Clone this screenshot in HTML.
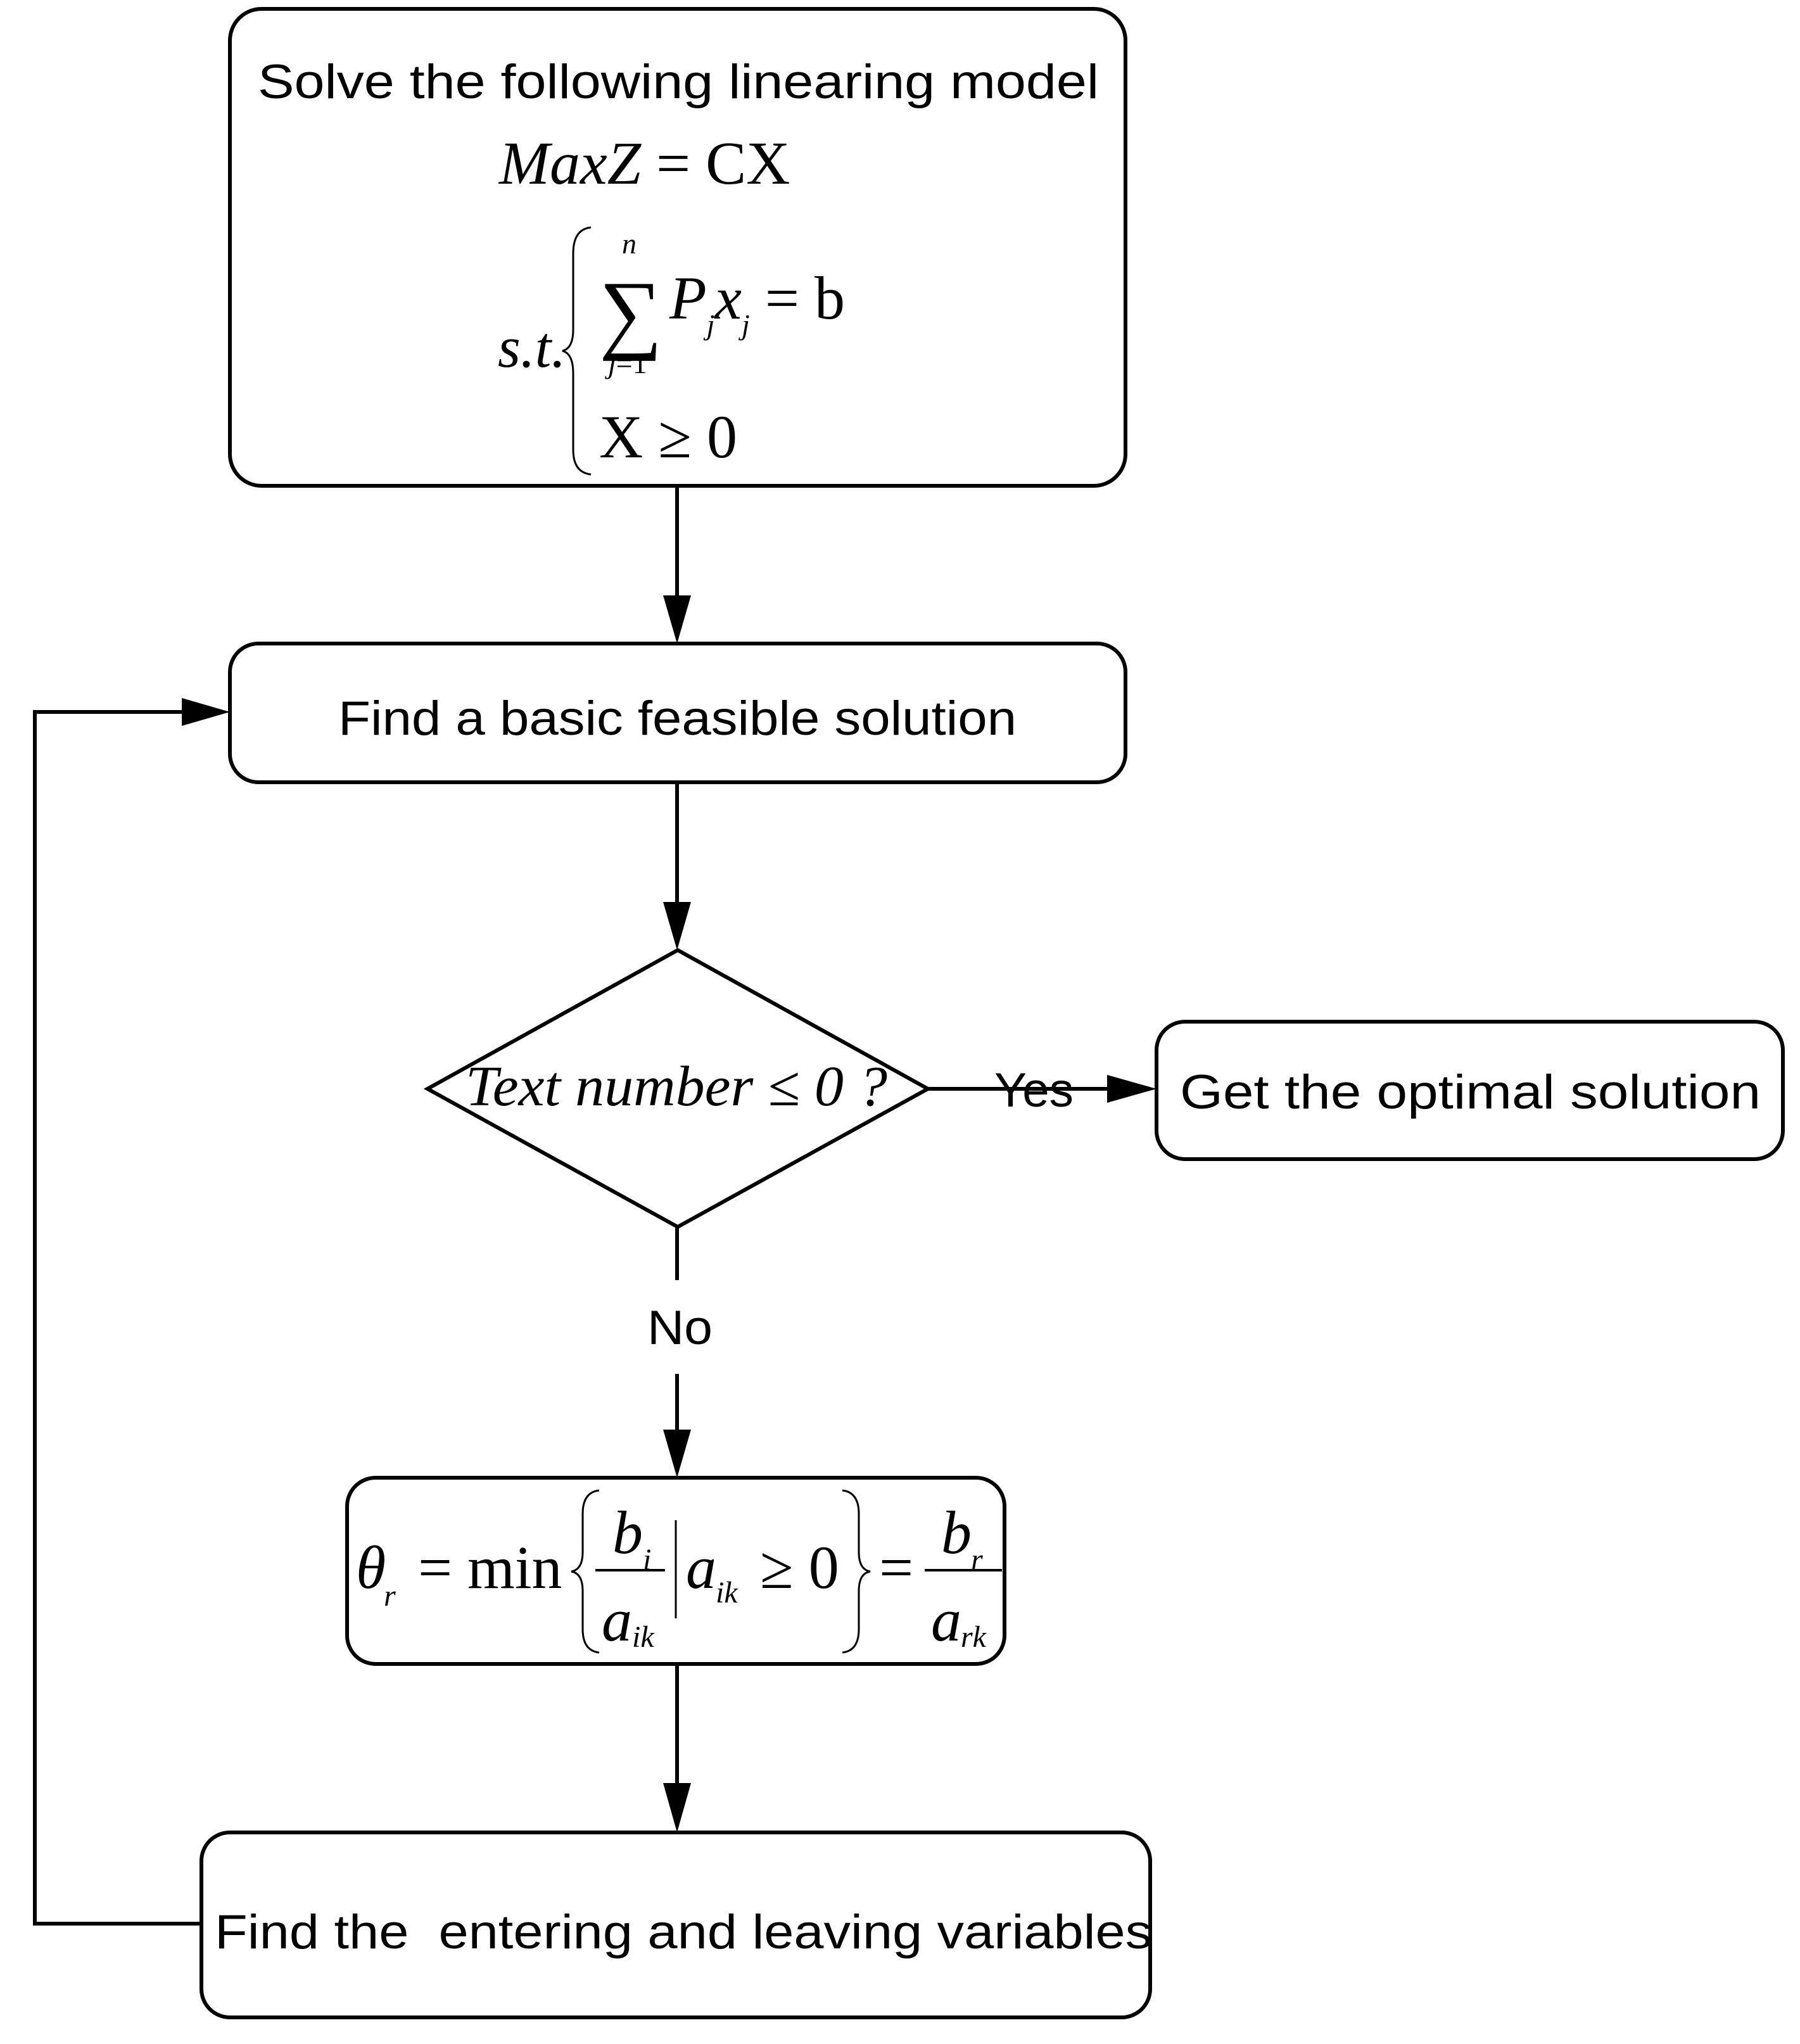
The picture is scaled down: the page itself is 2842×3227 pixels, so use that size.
<!DOCTYPE html>
<html><head><meta charset="utf-8"><style>
html,body{margin:0;padding:0;background:#fff;}
svg{display:block;}
.c{font-family:"Liberation Sans",sans-serif;font-size:76px;}
.t{font-family:"Liberation Serif",serif;}
.i{font-style:italic;}
</style></head><body>
<svg width="2842" height="3227" viewBox="0 0 2842 3227" xmlns="http://www.w3.org/2000/svg">
<defs><marker id="a" markerWidth="10" markerHeight="10" refX="10" refY="5" orient="auto" markerUnits="userSpaceOnUse" viewBox="0 0 10 10"><path d="M0,0 L10,5 L0,10 z"/></marker></defs>
<g fill="none" stroke="#000" stroke-width="6">
<rect x="363" y="14" width="1414" height="753" rx="50"/>
<rect x="363" y="1016" width="1414" height="219" rx="45"/>
<polygon points="1070,1500 1465,1719 1070,1937 675,1719"/>
<rect x="1826" y="1613" width="989" height="217" rx="45"/>
<rect x="548" y="2333" width="1038" height="294" rx="45"/>
<rect x="318" y="2893" width="1498" height="292" rx="45"/>
<line x1="1069" y1="767" x2="1069" y2="940"/>
<line x1="1069" y1="1235" x2="1069" y2="1424"/>
<line x1="1465" y1="1719" x2="1750" y2="1719"/>
<line x1="1069" y1="1937" x2="1069" y2="2021"/>
<line x1="1069" y1="2169" x2="1069" y2="2257"/>
<line x1="1069" y1="2627" x2="1069" y2="2815"/>
<polyline points="318,3037 55,3037 55,1124 287,1124"/>
</g>
<g fill="#000">
<path d="M1047,940 L1091,940 L1069,1016 z"/>
<path d="M1047,1424 L1091,1424 L1069,1500 z"/>
<path d="M1748,1697 L1748,1741 L1826,1719 z"/>
<path d="M1047,2257 L1091,2257 L1069,2333 z"/>
<path d="M1047,2815 L1091,2815 L1069,2893 z"/>
<path d="M287,1102 L287,1146 L363,1124 z"/>
</g>
<g fill="#000">
<text class="c" x="407" y="155" textLength="1328" lengthAdjust="spacingAndGlyphs">Solve the following linearing model</text>
<text class="t" x="788" y="290" font-size="96"><tspan class="i">MaxZ</tspan> = CX</text>
<text class="t i" x="786" y="579" font-size="92">s.t.</text>
<path d="M933,359 Q905,362 905,400 L905,520 Q905,550 888,554 Q905,558 905,590 L905,710 Q905,746 933,749" fill="none" stroke="#000" stroke-width="3"/>
<text class="t" x="946" y="540" font-size="140">∑</text>
<text class="t i" x="982" y="400" font-size="46">n</text>
<text class="t" x="960" y="589" font-size="46"><tspan class="i">j</tspan>=1</text>
<text class="t" x="1057" y="503" font-size="96"><tspan class="i">P</tspan><tspan class="i" font-size="46" dy="25">j</tspan><tspan class="i" dy="-25">x</tspan><tspan class="i" font-size="46" dy="25">j</tspan><tspan dy="-25"> = b</tspan></text>
<text class="t" x="946" y="722" font-size="96">X ≥ 0</text>
<text class="c" x="534" y="1160" textLength="1071" lengthAdjust="spacingAndGlyphs">Find a basic feasible solution</text>
<text class="t i" x="735" y="1745" font-size="90" textLength="666" lengthAdjust="spacingAndGlyphs">Text number ≤ 0 ?</text>
<text class="c" x="1570" y="1747" textLength="125" lengthAdjust="spacingAndGlyphs">Yes</text>
<text class="c" x="1863" y="1750" textLength="917" lengthAdjust="spacingAndGlyphs">Get the optimal solution</text>
<text class="c" x="1022" y="2122" textLength="103" lengthAdjust="spacingAndGlyphs">No</text>
<text class="t i" x="562" y="2507" font-size="96">θ</text>
<text class="t i" x="606" y="2535" font-size="48">r</text>
<text class="t" x="660" y="2507" font-size="96">= min</text>
<path d="M946,2353 Q920,2356 920,2390 L920,2450 Q920,2478 902,2481 Q920,2484 920,2512 L920,2572 Q920,2606 946,2609" fill="none" stroke="#000" stroke-width="3"/>
<text class="t i" x="967" y="2452" font-size="96">b</text>
<text class="t i" x="1015" y="2478" font-size="48">i</text>
<line x1="940" y1="2479" x2="1050" y2="2479" stroke="#000" stroke-width="4"/>
<text class="t i" x="950" y="2590" font-size="96">a</text>
<text class="t i" x="998" y="2600" font-size="48">ik</text>
<line x1="1067" y1="2400" x2="1067" y2="2555" stroke="#000" stroke-width="3"/>
<text class="t i" x="1083" y="2507" font-size="96">a</text>
<text class="t i" x="1130" y="2530" font-size="48">ik</text>
<text class="t" x="1200" y="2507" font-size="96">≥ 0</text>
<path d="M1330,2353 Q1356,2356 1356,2390 L1356,2450 Q1356,2478 1374,2481 Q1356,2484 1356,2512 L1356,2572 Q1356,2606 1330,2609" fill="none" stroke="#000" stroke-width="3"/>
<text class="t" x="1388" y="2507" font-size="96">=</text>
<text class="t i" x="1486" y="2452" font-size="96">b</text>
<text class="t i" x="1533" y="2478" font-size="48">r</text>
<line x1="1460" y1="2479" x2="1582" y2="2479" stroke="#000" stroke-width="4"/>
<text class="t i" x="1470" y="2590" font-size="96">a</text>
<text class="t i" x="1517" y="2600" font-size="48">rk</text>
<text class="c" x="339" y="3076" textLength="1480" lengthAdjust="spacingAndGlyphs" xml:space="preserve">Find the  entering and leaving variables</text>
</g>
</svg>
</body></html>
